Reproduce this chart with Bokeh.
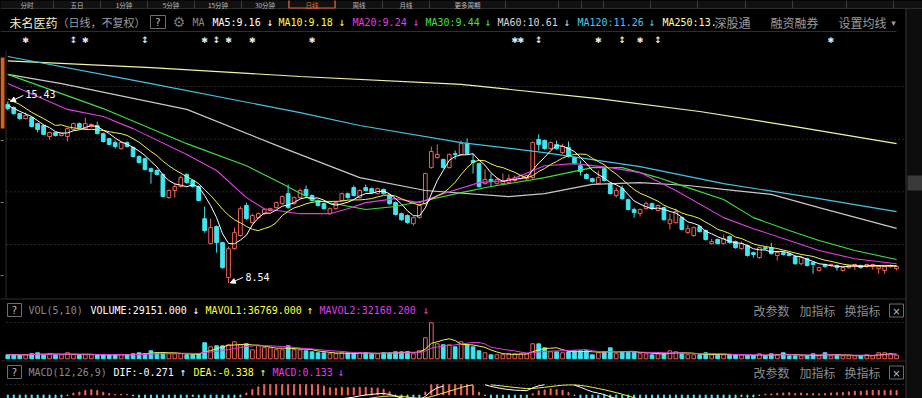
import numpy as np
from bokeh.plotting import figure
from bokeh.models import (Range1d, ColumnDataSource, Label, Arrow, NormalHead,
                          GlobalInlineStyleSheet)
from bokeh.embed import file_html
from bokeh.resources import INLINE
from bokeh.core.properties import value

# ---------------- data ----------------
stock_name = "未名医药"
period_note = "（日线，不复权）"
tabs = ["分时", "五日", "1分钟", "5分钟", "15分钟", "30分钟", "日线", "周线", "月线", "更多周期"]
active_tab = "日线"

opens = [15.32,15.20,14.97,14.78,14.82,14.59,14.52,14.10,14.25,14.14,
14.10,14.37,14.59,14.40,14.48,14.52,14.21,14.02,13.87,13.64,
13.87,13.68,13.34,13.26,12.88,12.81,12.66,11.78,12.05,12.20,
12.66,12.43,12.20,10.98,10.03,10.68,10.07,8.74,9.84,10.34,
11.48,10.83,11.02,11.17,11.29,11.40,11.55,11.93,11.55,11.78,
12.09,11.86,11.67,11.55,11.17,11.36,11.67,11.93,12.16,11.78,
12.16,12.12,11.93,12.09,11.86,11.59,11.17,11.10,10.79,11.02,
11.55,12.92,13.30,13.23,12.92,13.45,13.42,13.83,13.19,13.07,
12.31,12.47,12.31,12.31,12.35,12.43,12.50,12.50,12.54,13.99,
13.95,13.64,13.80,13.49,13.68,13.30,12.99,12.66,12.50,12.31,
12.88,12.31,11.86,12.12,11.70,11.33,11.17,11.36,11.55,11.29,
11.40,10.79,10.83,11.02,10.45,10.34,10.68,10.53,10.03,10.19,
10.03,10.30,10.11,9.84,9.96,9.69,9.50,9.88,9.88,9.58,
9.69,9.65,9.54,9.27,9.46,9.31,9.01,9.24,9.20,9.20,
9.01,9.12,9.16,9.20,9.16,9.16,9.08,9.01,9.16,9.08]

highs = [15.43,15.25,15.00,15.01,14.86,14.62,14.55,14.28,14.28,14.25,
14.44,14.63,14.63,14.82,14.60,14.67,14.25,14.05,13.95,13.91,
13.91,13.72,13.38,13.30,12.92,12.85,12.70,12.09,12.31,12.62,
12.70,12.47,12.24,11.44,10.98,10.72,10.11,9.92,10.64,11.44,
11.59,11.17,11.21,11.36,11.40,11.63,11.86,12.28,11.82,12.12,
12.24,11.90,11.71,11.59,11.40,11.63,11.97,11.97,12.24,12.09,
12.28,12.16,12.16,12.12,11.90,11.63,11.21,11.14,11.06,11.52,
12.73,13.72,13.80,13.26,13.45,13.57,13.95,14.02,13.45,13.11,
12.85,12.69,12.51,12.69,12.66,12.62,12.66,12.66,13.91,14.18,
13.99,13.91,13.95,13.83,13.91,13.34,13.19,12.70,12.54,12.81,
12.96,12.35,12.16,12.24,11.74,11.40,11.36,11.63,11.59,11.52,
11.44,11.17,11.36,11.06,10.75,10.68,10.72,10.57,10.22,10.22,
10.38,10.34,10.15,10.11,10.00,9.73,9.92,9.92,10.07,9.73,
9.73,9.69,9.58,9.54,9.50,9.35,9.16,9.27,9.27,9.24,
9.16,9.24,9.27,9.24,9.27,9.27,9.20,9.20,9.24,9.20]

lows = [15.09,14.93,14.74,14.75,14.45,14.25,14.15,13.98,14.10,14.10,
13.91,14.33,14.40,14.37,14.44,14.18,13.87,13.76,13.64,13.60,
13.68,13.30,13.07,12.81,12.31,12.62,11.78,11.74,11.78,12.16,
12.31,12.16,11.63,10.45,10.00,9.69,9.08,8.54,9.80,10.30,
10.94,10.79,10.98,11.13,11.25,11.36,11.51,11.36,11.51,11.74,
11.82,11.63,11.44,11.32,11.13,11.32,11.63,11.74,11.82,11.74,
12.01,11.93,11.90,11.90,11.51,11.10,10.90,10.79,10.72,10.98,
11.51,12.88,13.26,12.88,12.88,13.23,13.38,13.42,12.69,12.16,
12.28,12.20,12.28,12.28,12.31,12.39,12.47,12.43,12.50,13.57,
13.60,13.60,13.60,13.45,13.30,13.03,12.62,12.47,12.35,12.28,
12.39,11.90,11.78,11.70,11.29,11.02,11.06,11.32,11.32,11.25,
10.90,10.57,10.79,10.53,10.41,10.30,10.45,10.15,10.00,10.00,
10.00,10.03,9.84,9.80,9.54,9.50,9.46,9.80,9.62,9.39,
9.58,9.54,9.23,9.20,9.16,8.89,8.97,9.12,9.16,9.01,
8.97,9.08,9.04,9.08,9.12,9.04,8.89,8.89,9.12,9.01]

closes = [15.16,14.97,14.78,14.90,14.48,14.37,14.18,14.25,14.14,14.21,
14.40,14.59,14.44,14.59,14.56,14.21,13.91,13.80,13.72,13.87,
13.72,13.34,13.11,12.85,12.77,12.66,11.82,12.05,12.20,12.54,
12.35,12.20,11.67,10.53,10.64,10.07,9.12,9.84,10.45,11.36,
10.98,11.10,11.17,11.33,11.36,11.59,11.82,11.40,11.78,12.05,
11.86,11.67,11.48,11.36,11.36,11.59,11.93,11.78,11.86,12.05,
12.05,11.97,12.12,11.93,11.55,11.14,10.94,10.83,11.02,11.48,
12.69,13.53,13.42,12.92,13.42,13.42,13.83,13.45,13.11,12.20,
12.47,12.39,12.47,12.43,12.50,12.54,12.62,12.62,13.87,13.80,
13.64,13.87,13.64,13.72,13.34,13.07,12.77,12.50,12.39,12.54,
12.43,11.93,12.05,11.74,11.33,11.21,11.33,11.55,11.36,11.48,
10.94,10.94,11.25,10.57,10.60,10.64,10.49,10.19,10.11,10.03,
10.22,10.07,9.88,10.03,9.58,9.62,9.88,9.84,9.65,9.69,
9.62,9.58,9.27,9.50,9.20,9.24,9.12,9.16,9.24,9.12,
9.12,9.20,9.24,9.12,9.24,9.24,9.16,9.16,9.20,9.16]

volumes = [31800,32500,31200,32900,40300,47600,32100,39800,31500,32400,
48200,33100,31700,32600,31900,32800,32200,31400,33000,32300,
31600,40500,47900,40100,63800,48400,47700,40200,39600,40800,
32100,31900,40400,128300,96200,104100,103600,111800,136400,112300,
120200,71900,104300,88400,87700,72300,71600,104200,72500,71800,
64100,55800,48300,47700,40100,40600,48100,47500,40300,48400,
47900,40200,39800,48300,47600,56200,55700,56400,40100,64200,
168300,288400,120100,112300,111700,96200,136100,112400,95800,64300,
48100,32200,31800,32400,40100,39700,40300,40200,120400,119700,
88200,56100,55800,48200,56300,64100,63800,64200,32100,48300,
55900,88100,40200,56300,55700,56100,40300,39800,32200,40100,
40300,63900,56200,40100,32300,31800,32200,48100,31900,32300,
32100,31800,32400,31700,24100,23800,40200,24300,39900,32100,
48200,23900,24200,23800,24300,40100,23900,48200,24100,32300,
23900,24200,23800,24100,32200,24100,48300,47800,40100,29151]

# moving averages of the longer periods, read at sampled bars
ma20_idx = [0,10,16,21,30,35,40,43,49,54,57,60,65,69,73,79,84,90,95,101,106,112,120,125,131,136,142,149]
ma20_val = [16.11,15.13,14.86,14.40,13.42,12.81,11.78,11.36,11.17,11.17,11.36,11.59,11.74,11.59,11.93,12.35,12.43,12.99,13.07,12.92,12.73,12.05,11.02,10.60,10.15,9.77,9.46,9.27]
ma30_idx = [0,16,30,40,46,51,60,65,70,76,81,90,98,103,109,114,120,125,131,136,142,149]
ma30_val = [16.46,15.16,13.83,12.99,12.31,11.71,11.33,11.44,11.67,11.97,12.20,12.54,12.92,12.92,12.54,12.16,11.71,11.02,10.53,10.15,9.77,9.43]
ma60_idx = [0,9,30,46,59,70,84,90,98,106,114,120,128,136,149]
ma60_val = [16.46,16.11,15.13,13.68,12.54,12.05,11.82,11.93,12.28,12.35,12.24,12.09,11.90,11.40,10.61]
ma120_idx = [0,24,49,59,76,90,106,120,136,149]
ma120_val = [17.14,16.11,15.01,14.52,13.87,13.49,12.96,12.31,11.74,11.25]
ma250_idx = [0,24,49,76,99,116,133,149]
ma250_val = [16.97,16.72,16.38,16.08,15.54,15.05,14.44,13.83]
# first bars of MA5 / MA10 (their windows start before the visible range)
ma5_head_idx = [0, 2]
ma5_head_val = [15.28, 15.06]
ma10_head_idx = [0, 2, 4, 6, 8]
ma10_head_val = [15.53, 15.32, 15.02, 14.78, 14.52]
# MACD state before the first visible bar (estimated)
ema12_seed, ema26_seed, dea_seed = 15.62, 16.15, -0.45

# info markers above the price panel
star_idx = [3, 13, 33, 37, 41, 51, 85, 86, 99, 106, 138]
updown_idx = [11, 23, 35, 89, 103, 109]

ma_labels = [("MA5:9.16", "↓"), ("MA10:9.18", "↓"), ("MA20:9.24", "↓"),
             ("MA30:9.44", "↓"), ("MA60:10.61", "↓"), ("MA120:11.26", "↓"),
             ("MA250:13.", "")]
vol_labels = [("VOLUME:29151.000", "↓"), ("MAVOL1:36769.000", "↑"), ("MAVOL2:32160.200", "↓")]
macd_labels = [("DIF:-0.271", "↑"), ("DEA:-0.338", "↑"), ("MACD:0.133", "↓")]

# ---------------- derived series ----------------
N = len(closes)
idx = np.arange(N)
o = np.array(opens); h = np.array(highs); l = np.array(lows); c = np.array(closes)
v = np.array(volumes, dtype=float)

def sma_full(arr, n):
    return np.array([arr[i-n+1:i+1].mean() for i in range(n-1, len(arr))])

def sma_partial(arr, n):
    return np.array([arr[max(0, i-n+1):i+1].mean() for i in range(len(arr))])

ma5_x = list(ma5_head_idx) + list(range(4, N))
ma5_y = list(ma5_head_val) + list(sma_full(c, 5))
ma10_x = list(ma10_head_idx) + list(range(9, N))
ma10_y = list(ma10_head_val) + list(sma_full(c, 10))

mavol1 = sma_partial(v, 5)
mavol2 = sma_partial(v, 10)

e12, e26, dea = ema12_seed, ema26_seed, dea_seed
dif_l, dea_l, hist_l = [], [], []
for cc in c:
    e12 = e12 * 11 / 13 + cc * 2 / 13
    e26 = e26 * 25 / 27 + cc * 2 / 27
    d = e12 - e26
    dea = dea * 8 / 10 + d * 2 / 10
    dif_l.append(d); dea_l.append(dea); hist_l.append(2 * (d - dea))

# ---------------- layout constants ----------------
W, H = 922, 398
CANDLE_STEP = 5.965      # px per bar
CANDLE0_X = 7.3          # page x of bar 0
PRICE_PX = 26.33         # px per 1.00 of price
P16_Y = 86.0             # page y of price 16
VOL0_Y = 358.3           # page y of zero volume
VOL_PER_PX = 8000.0
MACD0_Y = 394.5          # page y of MACD zero
MACD_PX = 32.0
MACD_TOP_Y = 384.0       # top edge of the MACD plotting area

RED = "#f0625a"
CYAN = "#3fe6ef"
BG = "#000000"

x_start = -CANDLE0_X / CANDLE_STEP
x_end = (W - CANDLE0_X) / CANDLE_STEP
p_top = 16 + P16_Y / PRICE_PX
p_bot = 16 - (H - P16_Y) / PRICE_PX

p = figure(width=W, height=H, output_backend="svg", toolbar_location=None,
           x_range=Range1d(x_start, x_end), y_range=Range1d(p_bot, p_top),
           x_axis_type=None, y_axis_type=None, min_border=0)
p.grid.visible = False
p.outline_line_color = None
p.background_fill_color = BG
p.border_fill_color = BG
p.stylesheets = [GlobalInlineStyleSheet(css="html, body { background-color: #000000; }")]

p.extra_x_ranges = {"px": Range1d(0, W)}
p.extra_y_ranges = {
    "px": Range1d(H, 0),
    "vol": Range1d(-(H - VOL0_Y) * VOL_PER_PX, VOL0_Y * VOL_PER_PX),
    "macd": Range1d(-(H - MACD0_Y) / MACD_PX, MACD0_Y / MACD_PX),
}
macd_clip = (MACD0_Y - MACD_TOP_Y) / MACD_PX

PX = dict(x_range_name="px", y_range_name="px")
MONO = "DejaVu Sans Mono"
CJK = "Noto Sans CJK SC"

def lab(x, y, text, color, size=10, font=MONO, align="left", style="normal"):
    p.add_layout(Label(x=x, y=y, text=text, text_color=color, text_font=font,
                       text_font_size=f"{size}px", text_align=align, text_baseline="middle",
                       text_font_style=style, **PX))

# ---------- top tab strip ----------
p.quad(left=[0], right=[W], top=[0], bottom=[7.5], fill_color="#111111", line_color=None, **PX)
tab_edges = [0, 53, 100, 147, 194, 241, 288, 335, 382, 429, 505]
p.segment(x0=tab_edges[1:], x1=tab_edges[1:], y0=[0] * 10, y1=[7.5] * 10,
          line_color="#3c3c3c", **PX)
right_edges = [558, 581, 603, 650, 697, 745, 792, 846, 893]
p.segment(x0=right_edges, x1=right_edges, y0=[0] * 9, y1=[7.5] * 9, line_color="#3c3c3c", **PX)
p.segment(x0=[0], x1=[W], y0=[8], y1=[8], line_color="#2c2c2c", **PX)
for i, t in enumerate(tabs):
    cx = (tab_edges[i] + tab_edges[i + 1]) / 2
    lab(cx, 4.2, t, "#e07030" if t == active_tab else "#bdbdbd", size=6.5, font=CJK, align="center")
ai = tabs.index(active_tab)
p.quad(left=[tab_edges[ai] + 0.5], right=[tab_edges[ai + 1] - 0.5], top=[-1], bottom=[7.5],
       fill_color=None, line_color="#e0622a", line_width=1.2, **PX)

# ---------- frame lines / panel separators ----------
p.quad(left=[906], right=[W], top=[8.5], bottom=[H], fill_color="#0c0c0c", line_color=None, **PX)
p.quad(left=[907], right=[W], top=[175], bottom=[190], fill_color="#3a3a3a", line_color=None, **PX)
p.segment(x0=[905.5], y0=[8.5], x1=[905.5], y1=[H], line_color="#3a3a3a", **PX)
p.segment(x0=[0, 0, 0], y0=[31, 298.5, 360.5], x1=[896, 905, 905], y1=[31, 298.5, 360.5],
          line_color="#2e2e2e", **PX)
# left edge: orange marker, border and ticks
p.quad(left=[0], right=[4], top=[57], bottom=[128], fill_color="#d9631e", line_color=None, **PX)
p.segment(x0=[5.5], x1=[5.5], y0=[50], y1=[298], line_color="#2e2e2e", **PX)
p.segment(x0=[0, 0, 0], x1=[3, 3, 3], y0=[140, 202, 275], y1=[140, 202, 275],
          line_color="#8a8a8a", **PX)

# dotted grid lines
grid_prices = [16, 14, 12, 10]
p.segment(x0=[6] * 4, x1=[903] * 4, y0=grid_prices, y1=grid_prices, x_range_name="px",
          line_color="#4d4d4d", line_dash="1 3")
p.segment(x0=[6, 6], x1=[903, 903], y0=[322, 384], y1=[322, 384], line_color="#4d4d4d",
          line_dash="1 3", **PX)

# ---------- candles ----------
up = c > o
col = np.where(up, RED, CYAN)
body_top = np.maximum(o, c)
body_bot = np.minimum(o, c)
cs = ColumnDataSource(dict(x=idx, h=h, l=l, bt=body_top, bb=body_bot, col=col,
                           fill=np.where(up, BG, CYAN), v=v, zero=np.zeros(N)))
p.segment(x0="x", x1="x", y0="h", y1="bt", line_color="col", source=cs)
p.segment(x0="x", x1="x", y0="bb", y1="l", line_color="col", source=cs)
p.vbar(x="x", width=0.62, top="bt", bottom="bb", fill_color="fill", line_color="col",
       line_width=1, source=cs)

# ---------- moving averages ----------
p.line(ma250_idx, ma250_val, line_color="#f2f2a6", line_width=1.2)
p.line(ma120_idx, ma120_val, line_color="#45c3e6", line_width=1.2)
p.line(ma60_idx, ma60_val, line_color="#c8c8c8", line_width=1.2)
p.line(ma30_idx, ma30_val, line_color="#3fe03f", line_width=1.1)
p.line(ma20_idx, ma20_val, line_color="#e23de2", line_width=1.1)
p.line(ma10_x, ma10_y, line_color="#f2f24a", line_width=1.0)
p.line(ma5_x, ma5_y, line_color="#ffffff", line_width=1.0)

# high / low annotations
imax = int(np.argmax(h)); imin = int(np.argmin(l))
p.add_layout(Arrow(x_start=imax + 2.6, y_start=h[imax] + 0.23, x_end=imax + 0.45, y_end=h[imax],
                   line_color="white", line_width=1,
                   end=NormalHead(size=5, fill_color="white", line_color="white")))
p.add_layout(Label(x=imax + 2.95, y=h[imax] + 0.30, text=f"{h[imax]:.2f}", text_color="white",
                   text_font=MONO, text_font_size="10px", text_baseline="middle"))
p.add_layout(Arrow(x_start=imin + 2.45, y_start=l[imin] + 0.21, x_end=imin + 0.3, y_end=l[imin],
                   line_color="white", line_width=1,
                   end=NormalHead(size=5, fill_color="white", line_color="white")))
p.add_layout(Label(x=imin + 2.85, y=l[imin] + 0.22, text=f"{l[imin]:.2f}", text_color="white",
                   text_font=MONO, text_font_size="10px", text_baseline="middle"))

# info markers
p.text(x=star_idx, y=[39.5] * len(star_idx), text=["✱"] * len(star_idx), y_range_name="px",
       text_color="#e6e6e6", text_font=value("DejaVu Sans"), text_font_size="8px",
       text_align="center", text_baseline="middle")
p.text(x=updown_idx, y=[39.5] * len(updown_idx), text=["↕"] * len(updown_idx), y_range_name="px",
       text_color="#e6e6e6", text_font=value("DejaVu Sans"), text_font_size="9px",
       text_font_style="bold", text_align="center", text_baseline="middle")

# ---------- volume ----------
p.vbar(x="x", width=0.62, top="v", bottom="zero", fill_color="fill", line_color="col",
       y_range_name="vol", source=cs)
p.line(idx, mavol1, line_color="#f2f24a", line_width=1, y_range_name="vol")
p.line(idx, mavol2, line_color="#e23de2", line_width=1, y_range_name="vol")

# ---------- MACD (plot area clipped at its top edge) ----------
hist = np.array(hist_l)
ms = ColumnDataSource(dict(x=idx, top=np.minimum(hist, macd_clip), zero=np.zeros(N),
                           col=np.where(hist >= 0, RED, CYAN)))
p.vbar(x="x", width=0.18, top="top", bottom="zero", fill_color="col", line_color="col",
       y_range_name="macd", source=ms)
dif_a = np.array(dif_l); dea_a = np.array(dea_l)
p.line(idx, np.where(dea_a > macd_clip, np.nan, dea_a), line_color="#f2f24a", line_width=1,
       y_range_name="macd")
p.line(idx, np.where(dif_a > macd_clip, np.nan, dif_a), line_color="#ffffff", line_width=1,
       y_range_name="macd")

# ---------- texts ----------
def qbox(x0, x1, y0, y1, t):
    p.quad(left=[x0], right=[x1], top=[y0], bottom=[y1], fill_color=None,
           line_color="#6e6e6e", line_width=1, **PX)
    lab((x0 + x1) / 2, (y0 + y1) / 2 + 0.5, t, "#bdbdbd", size=10, font="DejaVu Sans", align="center")

HY = 21.5
lab(9, HY, stock_name, "#f4f0c8", size=12, font=CJK)
lab(57, HY, period_note, "#9c9c9c", size=11, font=CJK)
qbox(150, 165, 15, 28, "?")
lab(178.5, HY, "⚙", "#7a7a7a", size=14, font="DejaVu Sans", align="center")
lab(192, HY, "MA", "#8a8a8a", size=10)
ma_colors = ["#ffffff", "#ffff3c", "#e23de2", "#3fe03f", "#d8d8d8", "#45c8f0", "#ffffb0"]
ma_x = [212, 278, 352, 425, 497, 577, 662]
ma_arrow_x = [266, 338, 412, 484, 563, 648, None]
for (t, a), xx, ax, cc in zip(ma_labels, ma_x, ma_arrow_x, ma_colors):
    lab(xx, HY, t, cc)
    if a:
        lab(ax, HY, a, cc, size=11)
lab(714, HY, "深股通", "#9c9c9c", size=12, font=CJK)
lab(770, HY, "融资融券", "#9c9c9c", size=12, font=CJK)
lab(838, HY, "设置均线", "#9c9c9c", size=12, font=CJK)
lab(893, HY + 0.5, "▾", "#9c9c9c", size=9, font="DejaVu Sans", align="center")

# volume header
VY = 310
qbox(7, 21, 303, 316, "?")
lab(28, VY, "VOL(5,10)", "#8a8a8a")
for (t, a), xx, ax, cc in zip(vol_labels, [90, 205, 319], [192, 306, 422],
                              ["#ffffff", "#ffff3c", "#e23de2"]):
    lab(xx, VY, t, cc)
    lab(ax, VY, a, cc, size=11)

# MACD header
MY = 372
qbox(7, 21, 365, 378, "?")
lab(28, MY, "MACD(12,26,9)", "#8a8a8a")
for (t, a), xx, ax, cc in zip(macd_labels, [113, 193, 272], [179, 259, 337],
                              ["#ffffff", "#ffff3c", "#e23de2"]):
    lab(xx, MY, t, cc)
    lab(ax, MY, a, cc, size=11)

for yy in (VY, MY):
    lab(753, yy, "改参数", "#8c8c8c", size=12, font=CJK)
    lab(799, yy, "加指标", "#8c8c8c", size=12, font=CJK)
    lab(844, yy, "换指标", "#8c8c8c", size=12, font=CJK)
    qbox(889, 903, yy - 6.5, yy + 6.5, "×")

open("out.html", "w").write(file_html(p, INLINE))
